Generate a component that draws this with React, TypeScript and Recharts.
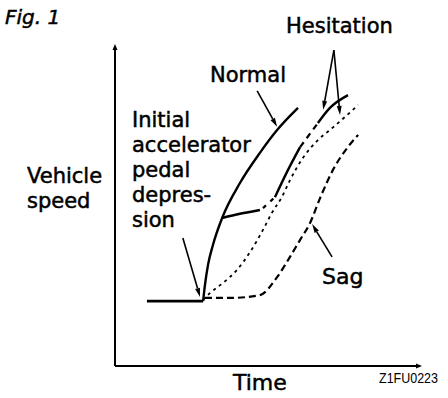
import React from "react";
import { ComposedChart, Line, XAxis, YAxis, ReferenceLine } from "recharts";

// Values: t = time (0-100), v = vehicle speed (0-100)
const idleLine = [
  { t: 10.4, v: 20.2 },
  { t: 28.7, v: 20.2 },
];
const normalCurve = [
  { t: 28.7, v: 20.2 },
  { t: 29.3, v: 25.2 },
  { t: 30.3, v: 31.5 },
  { t: 31.9, v: 37.7 },
  { t: 34.9, v: 46.1 },
  { t: 40.7, v: 57.0 },
  { t: 47.2, v: 66.4 },
  { t: 52.8, v: 73.5 },
  { t: 59.6, v: 80.4 },
];
const hesitationA = [
  { t: 34.9, v: 46.1 },
  { t: 40.7, v: 47.4 },
  { t: 47.2, v: 48.6 },
];
const hesitationB = [
  { t: 48.2, v: 49.2 },
  { t: 52.1, v: 52.6 },
];
const hesitationC = [
  { t: 52.1, v: 52.6 },
  { t: 56.0, v: 60.4 },
  { t: 60.3, v: 68.2 },
];
const hesitationD = [
  { t: 60.3, v: 68.2 },
  { t: 66.1, v: 75.7 },
];
const hesitationE = [
  { t: 66.1, v: 75.7 },
  { t: 70.0, v: 80.4 },
  { t: 75.9, v: 84.4 },
];
const dottedCurve = [
  { t: 28.7, v: 20.6 },
  { t: 30.9, v: 22.7 },
  { t: 35.2, v: 25.9 },
  { t: 39.7, v: 29.9 },
  { t: 44.0, v: 35.5 },
  { t: 48.2, v: 42.4 },
  { t: 51.1, v: 47.7 },
  { t: 54.4, v: 52.7 },
  { t: 57.0, v: 57.9 },
  { t: 61.2, v: 64.8 },
  { t: 66.1, v: 70.4 },
  { t: 70.0, v: 73.5 },
  { t: 74.9, v: 77.6 },
  { t: 79.2, v: 81.3 },
];
const sagCurve = [
  { t: 29.3, v: 21.2 },
  { t: 37.5, v: 21.2 },
  { t: 47.2, v: 22.1 },
  { t: 52.8, v: 27.7 },
  { t: 57.0, v: 34.0 },
  { t: 60.3, v: 39.3 },
  { t: 63.5, v: 44.5 },
  { t: 66.8, v: 52.3 },
  { t: 71.0, v: 61.1 },
  { t: 75.6, v: 67.9 },
  { t: 79.2, v: 72.0 },
];
// pointer arrows: [from, to]
const normalPointer = [{ x: 46.3, y: 85.7 }, { x: 52.8, y: 74.5 }];
const sagPointer = [{ x: 70.7, y: 34.0 }, { x: 64.2, y: 44.2 }];
const initialPointer = [{ x: 22.1, y: 39.9 }, { x: 27.7, y: 21.5 }];
const hesitationPointerL = [{ x: 71.3, y: 98.4 }, { x: 67.8, y: 79.8 }];
const hesitationPointerR = [{ x: 71.3, y: 98.4 }, { x: 73.3, y: 78.2 }];
const yAxisArrow = [{ x: 0, y: 0 }, { x: 0, y: 100.3 }];
const xAxisArrow = [{ x: 0, y: 0 }, { x: 100, y: 0 }];

const initialLabel = ["Initial", "accelerator", "pedal", "depres-", "sion"];
const speedLabel = ["Vehicle", "speed"];

const FONT = "'DejaVu Sans', sans-serif";

const makeArrow = (len: number, half: number, width: number) => (props: any) => {
  const { x1, y1, x2, y2 } = props;
  const dx = x2 - x1;
  const dy = y2 - y1;
  const d = Math.sqrt(dx * dx + dy * dy) || 1;
  const ux = dx / d;
  const uy = dy / d;
  const bx = x2 - ux * len;
  const by = y2 - uy * len;
  const pts = `${x2},${y2} ${bx - uy * half},${by + ux * half} ${bx + uy * half},${by - ux * half}`;
  return (
    <g>
      <line x1={x1} y1={y1} x2={bx} y2={by} stroke="#000" strokeWidth={width} />
      <polygon points={pts} fill="#000" />
    </g>
  );
};

const pointerArrow = makeArrow(9, 2.5, 1.6);
const axisArrow = makeArrow(6, 2.5, 2);

export default function App() {
  const lineCommon = {
    dataKey: "v",
    dot: false,
    activeDot: false,
    isAnimationActive: false,
    type: "monotone" as const,
    stroke: "#000",
  };
  return (
    <div
      style={{
        position: "absolute",
        left: 0,
        top: 0,
        width: 448,
        height: 398,
        background: "#fff",
      }}
    >
      <ComposedChart
        width={448}
        height={398}
        margin={{ top: 45, right: 26, bottom: 32, left: 115 }}
      >
        <XAxis dataKey="t" type="number" domain={[0, 100]} hide allowDataOverflow />
        <YAxis type="number" domain={[0, 100]} hide allowDataOverflow />
        <ReferenceLine segment={yAxisArrow} shape={axisArrow} ifOverflow="visible" />
        <ReferenceLine segment={xAxisArrow} shape={axisArrow} ifOverflow="visible" />
        <Line {...lineCommon} data={idleLine} strokeWidth={2.6} />
        <Line {...lineCommon} data={normalCurve} strokeWidth={2.4} />
        <Line {...lineCommon} data={hesitationA} strokeWidth={2.6} />
        <Line {...lineCommon} data={hesitationB} strokeWidth={2.2} strokeDasharray="4 6" />
        <Line {...lineCommon} data={hesitationC} strokeWidth={2.4} />
        <Line {...lineCommon} data={hesitationD} strokeWidth={2.2} strokeDasharray="6 5" />
        <Line {...lineCommon} data={hesitationE} strokeWidth={2.4} />
        <Line {...lineCommon} data={dottedCurve} strokeWidth={1.8} strokeDasharray="3 4" />
        <Line {...lineCommon} data={sagCurve} strokeWidth={2.2} strokeDasharray="7 4" />
        <ReferenceLine segment={normalPointer} shape={pointerArrow} ifOverflow="visible" />
        <ReferenceLine segment={sagPointer} shape={pointerArrow} ifOverflow="visible" />
        <ReferenceLine segment={initialPointer} shape={pointerArrow} ifOverflow="visible" />
        <ReferenceLine segment={hesitationPointerL} shape={pointerArrow} ifOverflow="visible" />
        <ReferenceLine segment={hesitationPointerR} shape={pointerArrow} ifOverflow="visible" />
      </ComposedChart>
      <svg
        width={448}
        height={398}
        style={{ position: "absolute", left: 0, top: 0, pointerEvents: "none" }}
      >
        <g fontFamily={FONT} fill="#000" stroke="#000" strokeWidth={0.5}>
          <text x={5} y={24} fontSize={20} fontStyle="italic">Fig. 1</text>
          <text x={286} y={33} fontSize={21}>Hesitation</text>
          <text x={210} y={82} fontSize={21}>Normal</text>
          {initialLabel.map((s, i) => (
            <text key={s} x={132} y={127 + i * 25} fontSize={21}>{s}</text>
          ))}
          {speedLabel.map((s, i) => (
            <text key={s} x={27} y={183 + i * 25} fontSize={21}>{s}</text>
          ))}
          <text x={322} y={284} fontSize={22}>Sag</text>
          <text x={233} y={390} fontSize={22}>Time</text>
        </g>
        <text
          x={379}
          y={383}
          fontSize={14}
          fontFamily="'Liberation Sans', Arial, sans-serif"
          textLength={59}
          lengthAdjust="spacingAndGlyphs"
          fill="#000"
        >
          Z1FU0223
        </text>
      </svg>
    </div>
  );
}
